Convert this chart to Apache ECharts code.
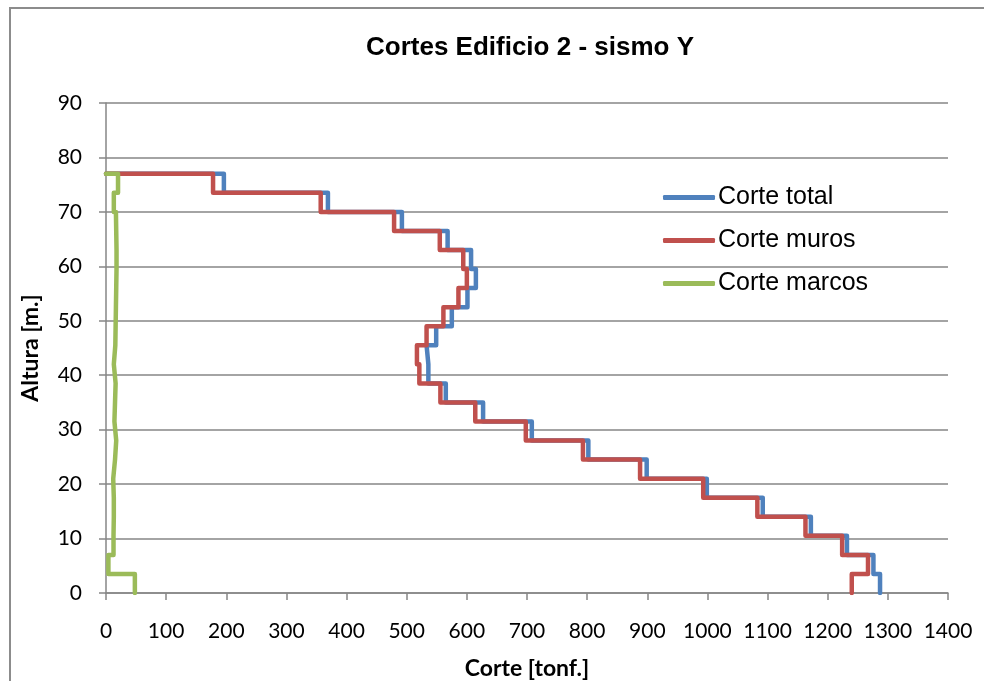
<!DOCTYPE html>
<html>
<head>
<meta charset="utf-8">
<script src="https://cdn.jsdelivr.net/npm/echarts@6/dist/echarts.min.js"></script>
<style>
  html, body { margin: 0; padding: 0; background: #fff; }
  #chart { width: 984px; height: 681px; }
</style>
</head>
<body>
<div id="chart"></div>
<script>
// niveles de piso [m]
const alturas = [0, 3.5, 7, 10.5, 14, 17.5, 21, 24.5, 28, 31.5, 35, 38.5, 42, 45.5, 49, 52.5, 56, 59.5, 63, 66.5, 70, 73.5, 77]
// corte por piso (piso 1 .. 22) [tonf]
const corteTotal = [1287, 1276, 1232, 1172, 1092, 999, 899, 802, 708, 627, 565, 536, 533, 549, 575, 601, 615, 607, 568, 492, 369, 196]
const corteMuros = [1240, 1267, 1224, 1163, 1083, 993, 888, 793, 698, 614, 556, 521, 517, 533, 561, 586, 600, 594, 555, 479, 357, 178]
const corteMarcos = [48, 4, 12.5, 13, 13, 12, 15, 17, 14, 15, 16, 13, 15.5, 16, 16.5, 17, 17.5, 17.5, 17, 16.5, 13, 20]
const xTicks = { min: 0, max: 1400, step: 100 }
const yTicks = { min: 0, max: 90, step: 10 }

// cada piso es un tramo vertical entre su base y su techo
function escalones(cortes) {
  const pts = []
  cortes.forEach((v, i) => {
    pts.push([v, alturas[i]])
    pts.push([v, alturas[i + 1]])
  })
  pts.push([0, alturas[alturas.length - 1]])
  return pts
}

const gris = '#868686'
const serie = (name, color, cortes) => ({
  name,
  type: 'line',
  data: escalones(cortes),
  showSymbol: false,
  symbol: 'none',
  color,
  lineStyle: { width: 4.5, color, cap: 'round', join: 'round' }
})

const chart = echarts.init(document.getElementById('chart'))
chart.setOption({
  animation: false,
  title: {
    text: 'Cortes Edificio 2 - sismo Y',
    left: 361,
    top: 30,
    textStyle: { fontFamily: 'Liberation Sans', fontWeight: 'bold', fontSize: 26, color: '#000' }
  },
  graphic: [{
    type: 'rect',
    shape: { x: 10, y: 8, width: 1000, height: 700 },
    style: { fill: 'none', stroke: '#8c8c8c', lineWidth: 2 },
    silent: true
  }],
  legend: {
    orient: 'vertical',
    left: 658,
    top: 180,
    icon: 'roundRect',
    itemWidth: 52,
    itemHeight: 5,
    itemGap: 18,
    textStyle: { fontFamily: 'Liberation Sans', fontSize: 25, color: '#000', padding: [0, 0, 0, -2] }
  },
  grid: { left: 106, right: 36, top: 103, bottom: 88, containLabel: false, outerBoundsMode: 'none' },
  xAxis: {
    type: 'value',
    min: xTicks.min,
    max: xTicks.max,
    interval: xTicks.step,
    name: 'Corte [tonf.]',
    nameLocation: 'middle',
    nameGap: 64,
    nameTextStyle: { fontFamily: 'Lato', fontWeight: 'bold', fontSize: 23, color: '#000' },
    axisLine: { lineStyle: { color: gris, width: 1.5 } },
    axisTick: { show: true, length: 7, lineStyle: { color: gris, width: 1.5 } },
    axisLabel: { fontFamily: 'Lato', fontSize: 21, color: '#000', margin: 28, formatter: v => String(v) },
    splitLine: { show: false }
  },
  yAxis: {
    type: 'value',
    min: yTicks.min,
    max: yTicks.max,
    interval: yTicks.step,
    name: 'Altura [m.]',
    nameLocation: 'middle',
    nameRotate: 90,
    nameGap: 64,
    nameTextStyle: { fontFamily: 'Lato', fontWeight: 'bold', fontSize: 23, color: '#000' },
    axisLine: { show: true, lineStyle: { color: gris, width: 1.5 } },
    axisTick: { show: true, length: 7, lineStyle: { color: gris, width: 1.5 } },
    axisLabel: { fontFamily: 'Lato', fontSize: 21, color: '#000', margin: 24 },
    splitLine: { show: true, lineStyle: { color: gris, width: 1.5 } }
  },
  series: [
    serie('Corte total', '#4F81BD', corteTotal),
    serie('Corte muros', '#C0504D', corteMuros),
    serie('Corte marcos', '#9BBB59', corteMarcos)
  ]
})
</script>
</body>
</html>
